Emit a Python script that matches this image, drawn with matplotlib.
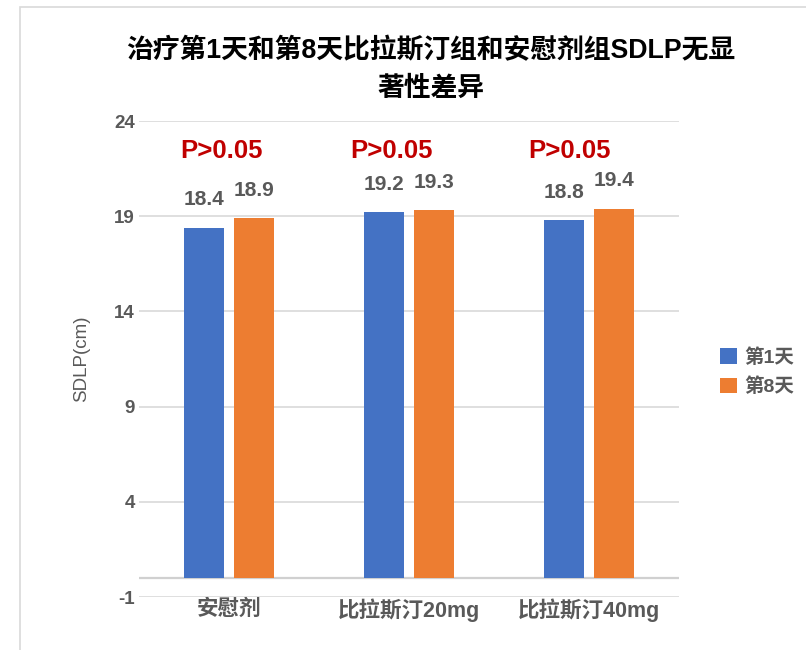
import matplotlib
matplotlib.use("Agg")
import matplotlib.pyplot as plt
import numpy as np
from matplotlib.patches import Rectangle

plt.rcParams['font.family'] = ['Liberation Sans', 'Noto Sans CJK SC', 'DejaVu Sans']

categories = ['安慰剂', '比拉斯汀20mg', '比拉斯汀40mg']
series_names = ['第1天', '第8天']
day1 = [18.4, 19.2, 18.8]
day8 = [18.9, 19.3, 19.4]
p_labels = ['P>0.05', 'P>0.05', 'P>0.05']
yticks = [-1, 4, 9, 14, 19, 24]
title = '治疗第1天和第8天比拉斯汀组和安慰剂组SDLP无显\n著性差异'
ylabel = 'SDLP(cm)'

colors = ['#4472C4', '#ED7D31']
gray = '#595959'

fig = plt.figure(figsize=(8.06, 6.5), dpi=100)
ax = fig.add_axes([139/806, 1-597/650, 540/806, (597-121)/650])

# chart border (left and top visible)
fig.add_artist(Rectangle((20/806, -0.1), 1.2, 1-7/650+0.1, transform=fig.transFigure,
                         fill=False, edgecolor='#D9D9D9', linewidth=1.2))

x = np.arange(len(categories))
w = 0.222
off = 0.139
b1 = ax.bar(x - off, day1, w, color=colors[0], label=series_names[0], zorder=3)
b2 = ax.bar(x + off, day8, w, color=colors[1], label=series_names[1], zorder=3)

for bars, vals in ((b1, day1), (b2, day8)):
    for r, v in zip(bars, vals):
        ax.annotate(f'{v:.1f}', (r.get_x() + r.get_width()/2, v), xytext=(0, 20),
                    textcoords='offset points', ha='center', va='center',
                    fontsize=15, fontweight='bold', color=gray)

p_x = [-0.04, -0.095, -0.11]
for i, t in enumerate(p_labels):
    ax.text(x[i] + p_x[i], 22.4, t, ha='center', va='center', fontsize=18.5,
            fontweight='bold', color='#C00000')

ax.set_xlim(-0.5, 2.5)
ax.set_ylim(-1, 24)
ax.set_yticks(yticks)
ax.set_yticklabels([str(t) for t in yticks])
ax.grid(axis='y', color='#D9D9D9', linewidth=1.2, zorder=0)
ax.axhline(0, color='#D0D0D0', linewidth=1.6, zorder=2)
for s in ax.spines.values():
    s.set_visible(False)
ax.tick_params(axis='both', length=0)
ax.tick_params(axis='y', pad=3, labelsize=13.5, labelcolor=gray)
ax.tick_params(axis='x', pad=1, labelsize=15.5, labelcolor=gray)
for lbl in ax.get_yticklabels():
    lbl.set_fontweight('bold')
ax.set_xticks(x)
ax.set_xticklabels(categories, fontweight='bold')

ax.set_ylabel(ylabel, fontsize=13.5, color=gray, labelpad=17)

fig.text(431/806, 1-70/650, title, ha='center', va='center', fontsize=19.3,
         fontweight='bold', color='black', linespacing=1.62)

leg = fig.legend(handles=[b1, b2], labels=series_names, loc='center left',
                 bbox_to_anchor=(720/806, 1-372/650), frameon=False, borderpad=0,
                 borderaxespad=0,
                 prop={'size': 14, 'weight': 'bold'}, handlelength=0.85,
                 handleheight=0.85, handletextpad=0.4, labelspacing=0.55)
for t in leg.get_texts():
    t.set_color(gray)

fig.savefig('out.png', dpi=100, facecolor='white')
